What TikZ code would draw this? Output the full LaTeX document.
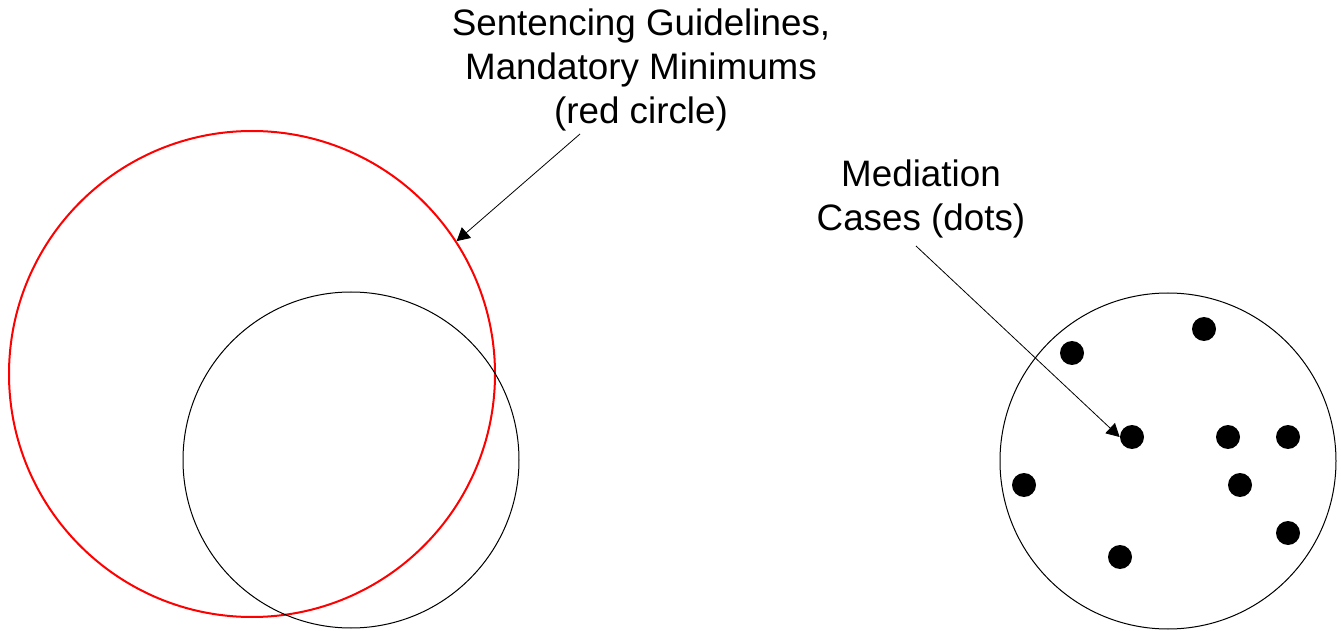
\documentclass[tikz,border=0pt]{standalone}
\usepackage{fontspec}
\setmainfont{Liberation Sans}
\usetikzlibrary{arrows.meta}
\begin{document}
\begin{tikzpicture}[x=0.5pt,y=-0.5pt,every node/.style={font=\fontsize{18.4}{22}\selectfont}]
        \tikzset{edge/.style = {-{Triangle[length=6.5pt,width=7pt]}, line width=0.4pt}}
        \tikzset{ring/.style = {circle,draw,line width=0.5pt,inner sep=0pt}}
        \tikzset{dot/.style = {circle,fill,inner sep=0pt,minimum size=12pt}}
        \useasboundingbox (0,0) rectangle (1341,631);
        
        \node[ring,red,line width=1pt,minimum size=243pt] (R) at (252,374) {};
        \node[ring,minimum size=168pt] (L) at (351,460) {};
        \node[ring,minimum size=168pt] (C) at (1168,461) {};
        
        \node (d1) [dot] at (1072,353) {};
        \node (d2) [dot] at (1204,329) {};
        \node (d3) [dot] at (1132,437) {};
        \node (d4) [dot] at (1228,437) {};
        \node (d5) [dot] at (1288,437) {};
        \node (d6) [dot] at (1024,485) {};
        \node (d7) [dot] at (1240,485) {};
        \node (d8) [dot] at (1288,533) {};
        \node (d9) [dot] at (1120,557) {};
        
        \node[align=center] (G) at (641,70) {Sentencing Guidelines,\\Mandatory Minimums\\(red circle)};
        \node[align=center] (M) at (921,199) {Mediation\\Cases (dots)};
        \coordinate (GT) at (580,134);
        \coordinate (MT) at (916,246);
        
        \draw[edge] (GT) to (R.33);
        \draw[edge] (MT) to (d3.west);
\end{tikzpicture}
\end{document}
